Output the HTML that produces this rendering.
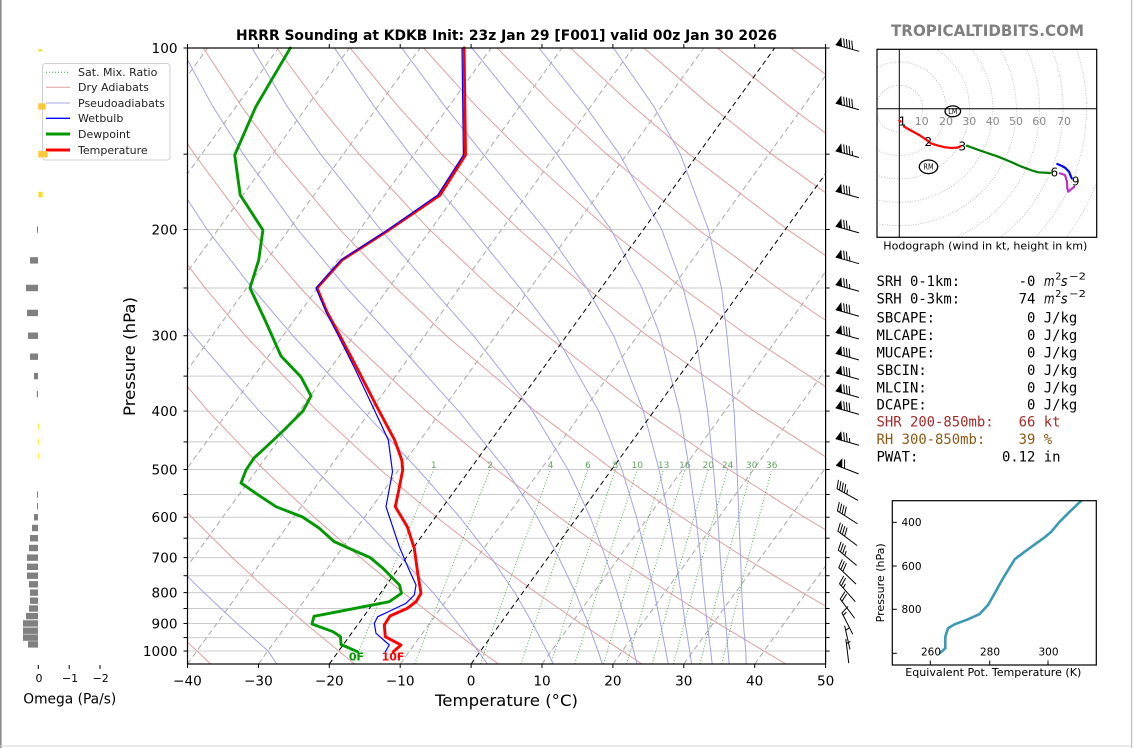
<!DOCTYPE html>
<html><head><meta charset="utf-8">
<style>
html,body{margin:0;padding:0;background:#fff;}
svg{display:block;}
text{font-family:"DejaVu Sans","Liberation Sans",sans-serif;}
.mono{font-family:"DejaVu Sans Mono","Liberation Mono",monospace;font-size:13.9px;white-space:pre;}
</style></head><body>
<svg width="1134" height="748" viewBox="0 0 1134 748" xmlns="http://www.w3.org/2000/svg">
<defs>
<clipPath id="ca"><rect x="187.5" y="48" width="638.1" height="616"/></clipPath>
<clipPath id="ch"><rect x="877" y="49.3" width="219.7" height="188"/></clipPath>
<clipPath id="ct"><rect x="892.3" y="500.7" width="204" height="164.3"/></clipPath>
</defs>
<rect width="1134" height="748" fill="#fff"/>
<rect x="0" y="0" width="1.6" height="748" fill="#8c8c8c"/>
<rect x="1131" y="0" width="1.2" height="748" fill="#bdbdbd"/>
<rect x="0" y="745.5" width="1132" height="1" fill="#d6d6d6"/>

<!-- horizontal grid -->
<g stroke="#cccccc" stroke-width="1">
<line x1="187.5" x2="825.6" y1="154.19" y2="154.19"/><line x1="187.5" x2="825.6" y1="229.54" y2="229.54"/>
<line x1="187.5" x2="825.6" y1="287.98" y2="287.98"/><line x1="187.5" x2="825.6" y1="335.73" y2="335.73"/>
<line x1="187.5" x2="825.6" y1="376.10" y2="376.10"/><line x1="187.5" x2="825.6" y1="411.07" y2="411.07"/>
<line x1="187.5" x2="825.6" y1="441.92" y2="441.92"/><line x1="187.5" x2="825.6" y1="469.51" y2="469.51"/>
<line x1="187.5" x2="825.6" y1="494.47" y2="494.47"/><line x1="187.5" x2="825.6" y1="517.26" y2="517.26"/>
<line x1="187.5" x2="825.6" y1="538.22" y2="538.22"/><line x1="187.5" x2="825.6" y1="557.63" y2="557.63"/>
<line x1="187.5" x2="825.6" y1="575.70" y2="575.70"/><line x1="187.5" x2="825.6" y1="592.61" y2="592.61"/>
<line x1="187.5" x2="825.6" y1="608.48" y2="608.48"/><line x1="187.5" x2="825.6" y1="623.45" y2="623.45"/>
<line x1="187.5" x2="825.6" y1="637.61" y2="637.61"/><line x1="187.5" x2="825.6" y1="651.05" y2="651.05"/>
</g>

<g clip-path="url(#ca)" fill="none">
<!-- gray isotherms -->
<g stroke="#a8a8a8" stroke-width="1" stroke-dasharray="5.5,3.5">
<line x1="-237.9" y1="664" x2="207.5" y2="48"/><line x1="-167.0" y1="664" x2="278.4" y2="48"/>
<line x1="-96.1" y1="664" x2="349.3" y2="48"/><line x1="-25.2" y1="664" x2="420.2" y2="48"/>
<line x1="45.7" y1="664" x2="491.1" y2="48"/><line x1="116.6" y1="664" x2="562.0" y2="48"/>
<line x1="187.5" y1="664" x2="632.9" y2="48"/><line x1="258.4" y1="664" x2="703.8" y2="48"/>
<line x1="400.2" y1="664" x2="845.6" y2="48"/><line x1="542.0" y1="664" x2="987.4" y2="48"/>
<line x1="612.9" y1="664" x2="1058.3" y2="48"/><line x1="683.8" y1="664" x2="1129.2" y2="48"/>
<line x1="754.7" y1="664" x2="1200.1" y2="48"/>
</g>
<!-- dry adiabats -->
<g stroke="#dca0a0" stroke-width="1">
<polyline points="210.7,664 196.9,651.05 167.8,623.45"/>
<polyline points="354.5,664 338.7,651.05 305.4,623.45 270.0,592.61 232.3,557.63 191.7,517.26 147.5,469.51"/>
<polyline points="498.3,664 480.5,651.05 443.0,623.45 403.1,592.61 360.4,557.63 314.2,517.26 263.8,469.51 208.0,411.07 144.7,335.73"/>
<polyline points="642.0,664 622.3,651.05 580.6,623.45 536.1,592.61 488.4,557.63 436.7,517.26 380.1,469.51 317.1,411.07 245.3,335.73 205.1,287.98 160.9,229.54"/>
<polyline points="785.9,664 764.1,651.05 718.1,623.45 669.2,592.61 616.5,557.63 559.3,517.26 496.4,469.51 426.2,411.07 345.8,335.73 300.4,287.98 250.4,229.54 194.3,154.19 163.3,106.44"/>
<polyline points="929.7,664 905.9,651.05 855.8,623.45 802.2,592.61 744.5,557.63 681.8,517.26 612.8,469.51 535.4,411.07 446.3,335.73 395.9,287.98 339.9,229.54 276.8,154.19 241.6,106.44 203.3,48"/>
<polyline points="993.4,623.45 935.2,592.61 872.6,557.63 804.4,517.26 729.0,469.51 644.5,411.07 546.9,335.73 491.3,287.98 429.4,229.54 359.2,154.19 319.8,106.44 276.8,48"/>
<polyline points="1000.7,557.63 927.0,517.26 845.4,469.51 753.7,411.07 647.4,335.73 586.7,287.98 519.0,229.54 441.7,154.19 398.1,106.44 350.2,48"/>
<polyline points="961.7,469.51 862.8,411.07 747.9,335.73 682.2,287.98 608.5,229.54 524.2,154.19 476.5,106.44 423.7,48"/>
<polyline points="972.0,411.07 848.5,335.73 777.6,287.98 698.1,229.54 606.7,154.19 554.7,106.44 497.1,48"/>
<polyline points="948.9,335.73 873.0,287.98 787.5,229.54 689.1,154.19 633.0,106.44 570.6,48"/>
<polyline points="968.5,287.98 877.1,229.54 771.6,154.19 711.3,106.44 644.0,48"/>
<polyline points="966.6,229.54 854.0,154.19 789.5,106.44 717.5,48"/>
<polyline points="936.5,154.19 867.8,106.44 790.9,48"/>
</g>
<!-- moist adiabats -->
<g stroke="#a4a4e4" stroke-width="1" stroke-linejoin="round">
<polyline points="276.8,664 268.1,651.05 237.0,623.45 204.0,592.61 168.3,557.63"/>
<polyline points="487.4,664 478.0,651.05 458.0,623.45 433.0,592.61 401.0,557.63 362.6,517.26 315.2,469.51 259.3,411.07 193.5,335.73 157.1,287.98"/>
<polyline points="553.3,664 547.1,651.05 532.6,623.45 514.8,592.61 491.0,557.63 459.9,517.26 418.0,469.51 363.1,411.07 292.9,335.73 252.1,287.98 207.1,229.54 157.7,154.19"/>
<polyline points="602.3,664 598.1,651.05 588.0,623.45 575.4,592.61 558.8,557.63 537.3,517.26 505.8,469.51 458.6,411.07 390.5,335.73 346.6,287.98 297.8,229.54 243.3,154.19 212.8,106.44 181.0,48"/>
<polyline points="637.0,664 633.7,651.05 626.4,623.45 617.2,592.61 605.6,557.63 590.3,517.26 568.0,469.51 532.5,411.07 473.5,335.73 431.2,287.98 380.6,229.54 320.6,154.19 287.2,106.44 252.0,48"/>
<polyline points="668.2,664 665.8,651.05 660.5,623.45 654.3,592.61 646.4,557.63 636.6,517.26 621.9,469.51 598.8,411.07 555.9,335.73 520.0,287.98 472.3,229.54 409.9,154.19 374.1,106.44 334.5,48"/>
<polyline points="691.6,664 689.7,651.05 685.2,623.45 680.9,592.61 675.5,557.63 668.8,517.26 659.0,469.51 643.4,411.07 613.7,335.73 586.7,287.98 545.4,229.54 483.3,154.19 445.0,106.44 401.8,48"/>
<polyline points="712.2,664 710.7,651.05 707.2,623.45 703.7,592.61 700.5,557.63 696.0,517.26 689.4,469.51 679.6,411.07 660.2,335.73 642.0,287.98 611.0,229.54 557.0,154.19 519.1,106.44 472.0,48"/>
<polyline points="729.2,664 728.0,651.05 725.8,623.45 722.9,592.61 720.3,557.63 717.7,517.26 713.5,469.51 707.6,411.07 695.4,335.73 683.1,287.98 661.8,229.54 619.4,154.19 585.7,106.44 539.0,48"/>
<polyline points="746.2,664 745.7,651.05 743.4,623.45 741.8,592.61 740.6,557.63 738.9,517.26 737.0,469.51 734.1,411.07 727.0,335.73 721.5,287.98 708.5,229.54 680.4,154.19 653.8,106.44 613.5,48"/>
</g>
<!-- mixing ratio lines -->
<g stroke="#3d9a3d" stroke-width="1" stroke-dasharray="1,2" opacity="0.85">
<polyline points="353.8,664 389.6,575.7 433.8,469.51"/>
<polyline points="414.7,664 448.4,575.7 490.1,469.51"/>
<polyline points="480.3,664 511.5,575.7 550.6,469.51"/>
<polyline points="520.9,664 550.6,575.7 588.0,469.51"/>
<polyline points="550.8,664 579.4,575.7 615.5,469.51"/>
<polyline points="574.7,664 602.3,575.7 637.3,469.51"/>
<polyline points="603.4,664 629.9,575.7 663.6,469.51"/>
<polyline points="626.6,664 652.2,575.7 684.9,469.51"/>
<polyline points="652.2,664 676.7,575.7 708.2,469.51"/>
<polyline points="673.4,664 697.1,575.7 727.6,469.51"/>
<polyline points="699.9,664 722.4,575.7 751.7,469.51"/>
<polyline points="721.8,664 743.4,575.7 771.7,469.51"/>
</g>
<!-- black isotherms -->
<g stroke="#000" stroke-width="1" stroke-dasharray="5,3.5">
<line x1="329.3" y1="664" x2="774.7" y2="48"/>
<line x1="471.1" y1="664" x2="916.5" y2="48"/>
</g>
</g>

<!-- mixing ratio labels -->
<g font-size="9px" fill="#5fa35f" text-anchor="middle">
<text x="433.8" y="468">1</text><text x="490.1" y="468">2</text><text x="550.6" y="468">4</text>
<text x="588" y="468">6</text><text x="615.5" y="468">8</text><text x="637.3" y="468">10</text>
<text x="663.6" y="468">13</text><text x="684.9" y="468">16</text><text x="708.2" y="468">20</text>
<text x="727.6" y="468">24</text><text x="751.7" y="468">30</text><text x="771.7" y="468">36</text>
</g>

<!-- profiles -->
<g fill="none" stroke-linejoin="round" stroke-linecap="round">
<polyline stroke="#009900" stroke-width="2.9" points="290.3,48 255.8,106.7 234.7,155 240.2,195 262.9,230 258.7,260 250,288 265,320 281,356 301,377 311,396 303,411 284,430 266,447 254,458 246,470 241,483 255.8,493.3 276,506.7 302.5,517 319,528 334,541.5 349,548.3 370,557.5 383,568.3 399.5,585 401.5,593.3 389.3,601.7 314,616.3 312,624 333,631.7 340.5,636.7 341,644.5 357.5,651.7"/>
<polyline stroke="#ff0000" stroke-width="2.9" points="464.1,48 465.5,155 440.1,195 386.2,231.7 342,260 317,288 327,312 340,336 358,370 376,405 394.6,440 401.8,460 402.7,470 398.8,490 395.3,506.7 407.3,526.7 414.3,548.3 418,575 421,593.3 416,601.7 407.3,608.3 390,616 384.3,625 385.3,636.7 401,645 393.3,651.7"/>
<polyline stroke="#0000ff" stroke-width="1.2" points="462,48 463.4,155 437.8,195 385,231.7 341,260 316,288 326,312 338.5,336 355.5,370 372,405 388.3,440 392.5,471.7 386,506.7 399.3,546.7 407.7,566.7 416,585 414.3,595 406,603.3 392,610 377.7,616.7 374.3,623.3 376,633.3 389.3,645 385.3,651.7"/>
</g>
<text x="356.5" y="660.7" font-size="11px" font-weight="bold" fill="#009900" text-anchor="middle">0F</text>
<text x="393" y="660.7" font-size="11px" font-weight="bold" fill="#ff0000" text-anchor="middle">10F</text>

<!-- spines & ticks -->
<rect x="187.5" y="48" width="638.1" height="616" fill="none" stroke="#000" stroke-width="1.2"/>
<g stroke="#000" stroke-width="1">
<line x1="183.5" x2="187.5" y1="48" y2="48"/><line x1="183.5" x2="187.5" y1="154.19" y2="154.19"/>
<line x1="183.5" x2="187.5" y1="229.54" y2="229.54"/><line x1="183.5" x2="187.5" y1="287.98" y2="287.98"/>
<line x1="183.5" x2="187.5" y1="335.73" y2="335.73"/><line x1="183.5" x2="187.5" y1="376.10" y2="376.10"/>
<line x1="183.5" x2="187.5" y1="411.07" y2="411.07"/><line x1="183.5" x2="187.5" y1="441.92" y2="441.92"/>
<line x1="183.5" x2="187.5" y1="469.51" y2="469.51"/><line x1="183.5" x2="187.5" y1="494.47" y2="494.47"/>
<line x1="183.5" x2="187.5" y1="517.26" y2="517.26"/><line x1="183.5" x2="187.5" y1="538.22" y2="538.22"/>
<line x1="183.5" x2="187.5" y1="557.63" y2="557.63"/><line x1="183.5" x2="187.5" y1="575.70" y2="575.70"/>
<line x1="183.5" x2="187.5" y1="592.61" y2="592.61"/><line x1="183.5" x2="187.5" y1="608.48" y2="608.48"/>
<line x1="183.5" x2="187.5" y1="623.45" y2="623.45"/><line x1="183.5" x2="187.5" y1="637.61" y2="637.61"/>
<line x1="183.5" x2="187.5" y1="651.05" y2="651.05"/>
<line x1="825.6" x2="829.6" y1="48" y2="48"/><line x1="825.6" x2="829.6" y1="154.19" y2="154.19"/>
<line x1="825.6" x2="829.6" y1="229.54" y2="229.54"/><line x1="825.6" x2="829.6" y1="287.98" y2="287.98"/>
<line x1="825.6" x2="829.6" y1="335.73" y2="335.73"/><line x1="825.6" x2="829.6" y1="376.10" y2="376.10"/>
<line x1="825.6" x2="829.6" y1="411.07" y2="411.07"/><line x1="825.6" x2="829.6" y1="441.92" y2="441.92"/>
<line x1="825.6" x2="829.6" y1="469.51" y2="469.51"/><line x1="825.6" x2="829.6" y1="494.47" y2="494.47"/>
<line x1="825.6" x2="829.6" y1="517.26" y2="517.26"/><line x1="825.6" x2="829.6" y1="538.22" y2="538.22"/>
<line x1="825.6" x2="829.6" y1="557.63" y2="557.63"/><line x1="825.6" x2="829.6" y1="575.70" y2="575.70"/>
<line x1="825.6" x2="829.6" y1="592.61" y2="592.61"/><line x1="825.6" x2="829.6" y1="608.48" y2="608.48"/>
<line x1="825.6" x2="829.6" y1="623.45" y2="623.45"/><line x1="825.6" x2="829.6" y1="637.61" y2="637.61"/>
<line x1="825.6" x2="829.6" y1="651.05" y2="651.05"/>
<line x1="187.5" x2="187.5" y1="664" y2="668"/><line x1="258.4" x2="258.4" y1="664" y2="668"/>
<line x1="329.3" x2="329.3" y1="664" y2="668"/><line x1="400.2" x2="400.2" y1="664" y2="668"/>
<line x1="471.1" x2="471.1" y1="664" y2="668"/><line x1="542" x2="542" y1="664" y2="668"/>
<line x1="612.9" x2="612.9" y1="664" y2="668"/><line x1="683.8" x2="683.8" y1="664" y2="668"/>
<line x1="754.7" x2="754.7" y1="664" y2="668"/><line x1="825.6" x2="825.6" y1="664" y2="668"/>
<line x1="187.5" x2="187.5" y1="44" y2="48"/><line x1="258.4" x2="258.4" y1="44" y2="48"/>
<line x1="329.3" x2="329.3" y1="44" y2="48"/><line x1="400.2" x2="400.2" y1="44" y2="48"/>
<line x1="471.1" x2="471.1" y1="44" y2="48"/><line x1="542" x2="542" y1="44" y2="48"/>
<line x1="612.9" x2="612.9" y1="44" y2="48"/><line x1="683.8" x2="683.8" y1="44" y2="48"/>
<line x1="754.7" x2="754.7" y1="44" y2="48"/><line x1="825.6" x2="825.6" y1="44" y2="48"/>
</g>

<g font-size="13.6px" fill="#000" text-anchor="end">
<text x="177.5" y="53">100</text><text x="177.5" y="234.5">200</text><text x="177.5" y="340.7">300</text>
<text x="177.5" y="416">400</text><text x="177.5" y="474.5">500</text><text x="177.5" y="522.2">600</text>
<text x="177.5" y="562.6">700</text><text x="177.5" y="597.6">800</text><text x="177.5" y="628.4">900</text>
<text x="177.5" y="656">1000</text>
</g>
<g font-size="13.6px" fill="#000" text-anchor="middle">
<text x="187.5" y="685.5">−40</text><text x="258.4" y="685.5">−30</text><text x="329.3" y="685.5">−20</text>
<text x="400.2" y="685.5">−10</text><text x="471.1" y="685.5">0</text><text x="542" y="685.5">10</text>
<text x="612.9" y="685.5">20</text><text x="683.8" y="685.5">30</text><text x="754.7" y="685.5">40</text>
<text x="825.6" y="685.5">50</text>
</g>
<text x="435" y="706" font-size="16px" textLength="143" lengthAdjust="spacingAndGlyphs">Temperature (°C)</text>
<text x="135" y="356.5" font-size="16px" text-anchor="middle" transform="rotate(-90 135 356.5)" textLength="119" lengthAdjust="spacingAndGlyphs">Pressure (hPa)</text>
<text x="236" y="40" font-size="13.9px" font-weight="bold" textLength="541" lengthAdjust="spacingAndGlyphs">HRRR Sounding at KDKB Init: 23z Jan 29 [F001] valid 00z Jan 30 2026</text>

<!-- legend -->
<rect x="42.5" y="63.5" width="127.5" height="96.5" rx="3" fill="#fff" fill-opacity="0.85" stroke="#d0d0d0" stroke-width="1"/>
<line x1="46" x2="70" y1="72.3" y2="72.3" stroke="#3d9a3d" stroke-width="1" stroke-dasharray="1,2"/>
<line x1="46" x2="70" y1="87.3" y2="87.3" stroke="#dca0a0" stroke-width="1"/>
<line x1="46" x2="70" y1="103" y2="103" stroke="#a4a4e4" stroke-width="1"/>
<line x1="46" x2="70" y1="118.3" y2="118.3" stroke="#0000ff" stroke-width="1.3"/>
<line x1="46" x2="70" y1="134" y2="134" stroke="#009900" stroke-width="3"/>
<line x1="46" x2="70" y1="150" y2="150" stroke="#ff0000" stroke-width="3"/>
<g font-size="11px" fill="#222">
<text x="78" y="76.2">Sat. Mix. Ratio</text>
<text x="78" y="91.2">Dry Adiabats</text>
<text x="78" y="106.9">Pseudoadiabats</text>
<text x="78" y="122.2">Wetbulb</text>
<text x="78" y="137.9">Dewpoint</text>
<text x="78" y="153.9">Temperature</text>
</g>

<!-- omega bars -->
<g fill="#808080">
<rect x="37" y="226.34" width="1" height="6.4"/>
<rect x="30" y="257.18" width="8" height="6.4"/>
<rect x="26" y="284.78" width="12" height="6.4"/>
<rect x="27" y="309.74" width="11" height="6.4"/>
<rect x="28" y="332.53" width="10" height="6.4"/>
<rect x="30" y="353.49" width="8" height="6.4"/>
<rect x="34" y="372.9" width="4" height="6.4"/>
<rect x="36.8" y="390.97" width="1.2" height="6.4"/>
<rect x="37" y="491.27" width="1" height="6.4"/>
<rect x="37" y="503" width="1" height="6.4"/>
<rect x="34" y="514.06" width="4" height="6.4"/>
<rect x="32" y="524.8" width="6" height="6.4"/>
<rect x="30" y="535.02" width="8" height="6.4"/>
<rect x="29" y="544.8" width="9" height="6.4"/>
<rect x="27" y="554.43" width="11" height="6.4"/>
<rect x="27" y="563.6" width="11" height="6.4"/>
<rect x="27" y="572.5" width="11" height="6.4"/>
<rect x="29" y="581.1" width="9" height="6.4"/>
<rect x="30" y="589.41" width="8" height="6.4"/>
<rect x="30" y="597.5" width="8" height="6.4"/>
<rect x="29" y="605.28" width="9" height="6.4"/>
<rect x="26" y="612.9" width="12" height="6.4"/>
<rect x="23" y="620.25" width="15" height="6.4"/>
<rect x="23" y="627.5" width="15" height="6.4"/>
<rect x="23" y="634.41" width="15" height="6.4"/>
<rect x="28" y="641.2" width="10" height="6.4"/>
</g>
<rect x="38.3" y="49.2" width="4" height="2.2" fill="#f5dc30"/>
<rect x="38.3" y="103.29" width="7.4" height="6.3" fill="#fdc835"/>
<rect x="38.3" y="151.04" width="9.4" height="6.3" fill="#fdc835"/>
<rect x="38.3" y="191.86" width="4.4" height="5.4" fill="#f7dc35"/>
<rect x="38.3" y="423.65" width="0.8" height="6.3" fill="#ffee00"/>
<rect x="38.3" y="438.77" width="0.8" height="6.3" fill="#ffee00"/>
<rect x="38.3" y="452.85" width="0.8" height="6.3" fill="#ffee00"/>
<g stroke="#000" stroke-width="1">
<line x1="38.3" x2="38.3" y1="665" y2="669"/><line x1="69.2" x2="69.2" y1="665" y2="669"/><line x1="100" x2="100" y1="665" y2="669"/>
</g>
<g font-size="11px" text-anchor="middle" fill="#000">
<text x="39" y="682">0</text><text x="70" y="682">−1</text><text x="100.7" y="682">−2</text>
</g>
<text x="23.3" y="703.3" font-size="13.9px" textLength="93" lengthAdjust="spacingAndGlyphs">Omega (Pa/s)</text>

<!-- wind barbs -->
<g stroke="#000" stroke-width="1" fill="none" stroke-linecap="round">
<!-- 90 kt -->
<g transform="translate(0,48)"><path d="M858.61,3.18L835.98,-3.18M844.46,-0.8L843.73,-9.31M847.15,-0.04L846.42,-8.55M849.85,0.72L849.12,-7.8M852.54,1.47L851.82,-7.04"/><polygon points="835.98,-3.18 841.03,-10.07 841.76,-1.55" fill="#000" stroke-width="0.6"/></g>
<g transform="translate(0,106.44)"><path d="M858.61,3.18L835.98,-3.18M844.46,-0.8L843.73,-9.31M847.15,-0.04L846.42,-8.55M849.85,0.72L849.12,-7.8M852.54,1.47L851.82,-7.04"/><polygon points="835.98,-3.18 841.03,-10.07 841.76,-1.55" fill="#000" stroke-width="0.6"/></g>
<!-- 85 kt -->
<g transform="translate(0,154.19)"><path d="M858.61,3.18L835.98,-3.18M844.46,-0.8L843.73,-9.31M847.15,-0.04L846.42,-8.55M849.85,0.72L849.12,-7.8M852.54,1.47L852.18,-2.78"/><polygon points="835.98,-3.18 841.03,-10.07 841.76,-1.55" fill="#000" stroke-width="0.6"/></g>
<!-- 80 kt -->
<g transform="translate(0,194.56)"><path d="M858.61,3.18L835.98,-3.18M844.46,-0.8L843.73,-9.31M847.15,-0.04L846.42,-8.55M849.85,0.72L849.12,-7.8"/><polygon points="835.98,-3.18 841.03,-10.07 841.76,-1.55" fill="#000" stroke-width="0.6"/></g>
<!-- 75 kt -->
<g transform="translate(0,229.54)"><path d="M858.61,3.18L835.98,-3.18M844.46,-0.8L843.73,-9.31M847.15,-0.04L846.42,-8.55M849.85,0.72L849.48,-3.54"/><polygon points="835.98,-3.18 841.03,-10.07 841.76,-1.55" fill="#000" stroke-width="0.6"/></g>
<g transform="translate(0,260.38)"><path d="M858.61,3.18L835.98,-3.18M844.46,-0.8L843.73,-9.31M847.15,-0.04L846.42,-8.55M849.85,0.72L849.48,-3.54"/><polygon points="835.98,-3.18 841.03,-10.07 841.76,-1.55" fill="#000" stroke-width="0.6"/></g>
<g transform="translate(0,287.98)"><path d="M858.61,3.18L835.98,-3.18M844.46,-0.8L843.73,-9.31M847.15,-0.04L846.42,-8.55M849.85,0.72L849.48,-3.54"/><polygon points="835.98,-3.18 841.03,-10.07 841.76,-1.55" fill="#000" stroke-width="0.6"/></g>
<!-- 80 kt -->
<g transform="translate(0,312.94)"><path d="M858.61,3.18L835.98,-3.18M844.46,-0.8L843.73,-9.31M847.15,-0.04L846.42,-8.55M849.85,0.72L849.12,-7.8"/><polygon points="835.98,-3.18 841.03,-10.07 841.76,-1.55" fill="#000" stroke-width="0.6"/></g>
<g transform="translate(0,335.73)"><path d="M858.61,3.18L835.98,-3.18M844.46,-0.8L843.73,-9.31M847.15,-0.04L846.42,-8.55M849.85,0.72L849.12,-7.8"/><polygon points="835.98,-3.18 841.03,-10.07 841.76,-1.55" fill="#000" stroke-width="0.6"/></g>
<g transform="translate(0,356.69)"><path d="M858.61,3.18L835.98,-3.18M844.46,-0.8L843.73,-9.31M847.15,-0.04L846.42,-8.55M849.85,0.72L849.12,-7.8"/><polygon points="835.98,-3.18 841.03,-10.07 841.76,-1.55" fill="#000" stroke-width="0.6"/></g>
<g transform="translate(0,376.10)"><path d="M858.61,3.18L835.98,-3.18M844.46,-0.8L843.73,-9.31M847.15,-0.04L846.42,-8.55M849.85,0.72L849.12,-7.8"/><polygon points="835.98,-3.18 841.03,-10.07 841.76,-1.55" fill="#000" stroke-width="0.6"/></g>
<g transform="translate(0,394.17)"><path d="M858.61,3.18L835.98,-3.18M844.46,-0.8L843.73,-9.31M847.15,-0.04L846.42,-8.55M849.85,0.72L849.12,-7.8"/><polygon points="835.98,-3.18 841.03,-10.07 841.76,-1.55" fill="#000" stroke-width="0.6"/></g>
<g transform="translate(0,411.07)"><path d="M858.61,3.18L835.98,-3.18M844.46,-0.8L843.73,-9.31M847.15,-0.04L846.42,-8.55M849.85,0.72L849.12,-7.8"/><polygon points="835.98,-3.18 841.03,-10.07 841.76,-1.55" fill="#000" stroke-width="0.6"/></g>
<!-- 75 kt -->
<g transform="translate(0,441.92)"><path d="M858.61,3.18L835.98,-3.18M844.46,-0.8L843.73,-9.31M847.15,-0.04L846.42,-8.55M849.85,0.72L849.48,-3.54"/><polygon points="835.98,-3.18 841.03,-10.07 841.76,-1.55" fill="#000" stroke-width="0.6"/></g>
<!-- 500: 60 kt -->
<path d="M858.26,473.75L836.34,465.27M844.55,468.44L844.64,459.9"/>
<polygon points="836.34,465.27 842.03,458.89 841.94,467.43" fill="#000" stroke-width="0.6"/>
<!-- 550: 45 -->
<path d="M857.54,500.24L837.06,488.71L838.38,480.27M839.5,490.08L840.82,481.64M841.94,491.46L843.26,483.01M844.38,492.83L845.7,484.39M846.82,494.2L847.48,489.98"/>
<!-- 600: 40 -->
<path d="M857.18,523.61L837.41,510.9L839.22,502.55M839.77,512.42L841.57,504.06M842.12,513.93L843.93,505.58M844.48,515.44L846.28,507.09"/>
<!-- 650: 40 -->
<path d="M856.7,545.27L837.9,531.17L840.3,522.97M840.14,532.85L842.54,524.65M842.38,534.53L844.78,526.33M844.62,536.21L847.02,528.01"/>
<!-- 700: 35 -->
<path d="M856.34,565.14L838.27,550.12L841.07,542.05M840.42,551.91L843.22,543.84M842.57,553.7L845.38,545.63M844.73,555.49L846.13,551.45"/>
<!-- 750: 30 -->
<path d="M855.78,583.83L838.81,567.57L842.19,559.71M840.83,569.51L844.21,561.65M842.86,571.44L846.23,563.59"/>
<!-- 800: 25 -->
<path d="M855.06,601.43L839.54,583.79L843.56,576.26M841.39,585.89L845.41,578.36M843.24,587.99L845.24,584.23"/>
<!-- 850: 20 -->
<path d="M854.35,617.88L840.25,599.08L844.85,591.88M841.93,601.32L846.53,594.12"/>
<!-- 900: 15 -->
<path d="M852.6,633.94L842.0,612.97L847.78,606.68M843.26,615.47L846.15,612.33"/>
<!-- 950: 5 -->
<path d="M849.89,649.07L844.72,626.15M845.64,630.24L849.21,627.9"/>
<!-- 1000: 5 -->
<path d="M848.71,662.72L845.89,639.39M846.39,643.56L850.18,641.59"/>
</g>

<!-- watermark -->
<text x="891" y="36" font-size="16px" font-weight="bold" fill="#808080" textLength="193" lengthAdjust="spacingAndGlyphs">TROPICALTIDBITS.COM</text>

<!-- hodograph -->
<g clip-path="url(#ch)" fill="none" stroke="#b4b4b4" stroke-width="0.8" stroke-dasharray="1,1.6">
<circle cx="899.3" cy="108.7" r="23.4"/><circle cx="899.3" cy="108.7" r="46.8"/>
<circle cx="899.3" cy="108.7" r="70.2"/><circle cx="899.3" cy="108.7" r="93.6"/>
<circle cx="899.3" cy="108.7" r="117"/><circle cx="899.3" cy="108.7" r="140.4"/>
<circle cx="899.3" cy="108.7" r="163.8"/><circle cx="899.3" cy="108.7" r="187.2"/>
<circle cx="899.3" cy="108.7" r="210.6"/><circle cx="899.3" cy="108.7" r="234"/>
<circle cx="899.3" cy="108.7" r="257.4"/>
</g>
<line x1="877" x2="1096.7" y1="108.7" y2="108.7" stroke="#000" stroke-width="1"/>
<line x1="899.3" x2="899.3" y1="49.3" y2="237.3" stroke="#000" stroke-width="1"/>
<g font-size="11px" fill="#888" text-anchor="middle">
<text x="921.7" y="125">10</text><text x="946" y="125">20</text><text x="969.3" y="125">30</text>
<text x="992.7" y="125">40</text><text x="1016" y="125">50</text><text x="1039.3" y="125">60</text>
<text x="1064" y="125">70</text>
</g>
<g fill="none" stroke-width="2.2" stroke-linejoin="round" stroke-linecap="round">
<polyline stroke="#ff0000" points="899.3,120.5 900.5,121.5"/>
<polyline stroke="#ff0000" points="904,126.5 910,130 920,135.5 926.7,140 931,143.5 938,145.6 945,147.3 952,148 958,147.5 961,146"/>
<polyline stroke="#008000" points="966.7,145.7 980,150.5 998.3,156.7 1010,161.5 1021.7,166.7 1032,170.5 1038.3,172.3 1050,173"/>
<polyline stroke="#0000ff" points="1057.3,164 1062,166 1065,167.7 1069,171.7 1071.7,178.3"/>
<polyline stroke="#c030c8" points="1060,173.3 1065,175 1067,181.7 1067.3,188.3 1068.3,191.7 1074.3,186.7"/>
</g>
<g font-size="12px" fill="#000" text-anchor="middle">
<text x="902.5" y="125.3">1</text><text x="928.3" y="145.8">2</text><text x="962.3" y="150.3">3</text>
<text x="1054.3" y="176.6">6</text><text x="1075.7" y="185.6">9</text>
</g>
<ellipse cx="952.8" cy="111.3" rx="7.8" ry="5.4" fill="none" stroke="#000" stroke-width="1.3"/>
<ellipse cx="928.5" cy="166.8" rx="9.2" ry="6.8" fill="none" stroke="#000" stroke-width="1.3"/>
<text x="952.8" y="114.2" font-size="8px" text-anchor="middle" textLength="9" lengthAdjust="spacingAndGlyphs">LM</text>
<text x="928.5" y="169.7" font-size="8px" text-anchor="middle" textLength="10" lengthAdjust="spacingAndGlyphs">RM</text>
<rect x="877" y="49.3" width="219.7" height="188" fill="none" stroke="#000" stroke-width="1.2"/>
<text x="883.3" y="249.5" font-size="10.9px" textLength="204" lengthAdjust="spacingAndGlyphs">Hodograph (wind in kt, height in km)</text>

<!-- stats -->
<text class="mono" x="876.5" y="285.8">SRH 0-1km:       -0</text>
<text class="mono" x="876.5" y="303.3">SRH 0-3km:       74</text>
<g font-size="13.9px">
<text x="1044" y="285.8" font-style="italic" textLength="10.5" lengthAdjust="spacingAndGlyphs">m</text><text x="1055.3" y="279.5" font-size="9.7px">2</text><text x="1061" y="285.8" font-style="italic" textLength="6.5" lengthAdjust="spacingAndGlyphs">s</text><text x="1069" y="279.5" font-size="9.7px" textLength="17" lengthAdjust="spacingAndGlyphs">−2</text>
<text x="1044" y="303.3" font-style="italic" textLength="10.5" lengthAdjust="spacingAndGlyphs">m</text><text x="1055.3" y="297" font-size="9.7px">2</text><text x="1061" y="303.3" font-style="italic" textLength="6.5" lengthAdjust="spacingAndGlyphs">s</text><text x="1069" y="297" font-size="9.7px" textLength="17" lengthAdjust="spacingAndGlyphs">−2</text>
</g>
<text class="mono" x="876.5" y="322.3">SBCAPE:           0 J/kg</text>
<text class="mono" x="876.5" y="340">MLCAPE:           0 J/kg</text>
<text class="mono" x="876.5" y="357.3">MUCAPE:           0 J/kg</text>
<text class="mono" x="876.5" y="375">SBCIN:            0 J/kg</text>
<text class="mono" x="876.5" y="392.3">MLCIN:            0 J/kg</text>
<text class="mono" x="876.5" y="409.3">DCAPE:            0 J/kg</text>
<text class="mono" x="876.5" y="426.7" fill="#a52a2a">SHR 200-850mb:   66 kt</text>
<text class="mono" x="876.5" y="444" fill="#8b5a14">RH 300-850mb:    39 %</text>
<text class="mono" x="876.5" y="461.7">PWAT:          0.12 in</text>

<!-- theta-e panel -->
<polyline clip-path="url(#ct)" fill="none" stroke="#3a9ab4" stroke-width="2.6" stroke-linejoin="round" points="939.7,653.3 945.3,648.3 945.3,636.7 948,628.3 954.7,624.3 968,619.3 979.7,614 988,605 994.7,593.3 1003,578.3 1014.7,559.3 1024.7,551.7 1044.7,537.3 1051.3,531.7 1059.7,521.7 1069.7,511.7 1081.3,500.7 1085,497"/>
<rect x="892.3" y="500.7" width="204" height="164.3" fill="none" stroke="#000" stroke-width="1.2"/>
<g stroke="#000" stroke-width="1">
<line x1="892.3" x2="896.8" y1="522.3" y2="522.3"/><line x1="892.3" x2="896.8" y1="566" y2="566"/>
<line x1="892.3" x2="896.8" y1="609.3" y2="609.3"/><line x1="892.3" x2="896.8" y1="653.3" y2="653.3"/>
<line x1="930.3" x2="930.3" y1="665" y2="660.5"/><line x1="989.7" x2="989.7" y1="665" y2="660.5"/>
<line x1="1048" x2="1048" y1="665" y2="660.5"/>
</g>
<g font-size="10.5px" fill="#000">
<text x="901.5" y="526.2">400</text><text x="901.5" y="569.9">600</text><text x="901.5" y="613.2">800</text>
<text x="931" y="655.7" text-anchor="middle">260</text><text x="990" y="655.7" text-anchor="middle">280</text><text x="1048.5" y="655.7" text-anchor="middle">300</text>
</g>
<text x="884.2" y="582.8" font-size="10.9px" text-anchor="middle" transform="rotate(-90 884.2 582.8)" textLength="79" lengthAdjust="spacingAndGlyphs">Pressure (hPa)</text>
<text x="905.3" y="676" font-size="10.9px" textLength="176" lengthAdjust="spacingAndGlyphs">Equivalent Pot. Temperature (K)</text>
</svg>
</body></html>
